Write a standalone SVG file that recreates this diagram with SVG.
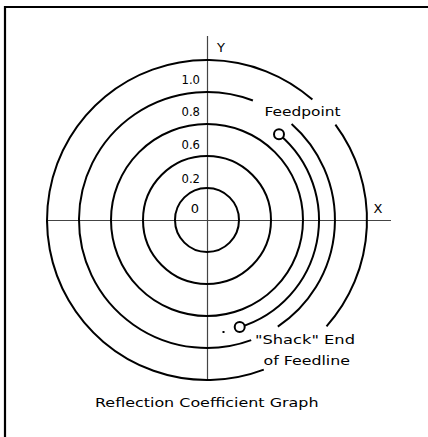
<svg xmlns="http://www.w3.org/2000/svg" width="428" height="437" viewBox="0 0 428 437">
<style>
.ring{fill:none;stroke:#000;stroke-width:2}
.axis{stroke:#444;stroke-width:1.2;fill:none}
.end{fill:#fff;stroke:#000;stroke-width:2}
text{font-family:"DejaVu Sans","Liberation Sans",sans-serif;font-size:13px;fill:#000}
</style>
<rect width="428" height="437" fill="#fff"/>
<path d="M5,440 V7 H430" fill="none" stroke="#000" stroke-width="2.2"/>
<g id="axes">
<line class="axis" x1="47" y1="220.5" x2="391" y2="220.5"/>
<line class="axis" x1="207.5" y1="36" x2="207.5" y2="380"/>
</g>
<g id="rings">
<circle class="ring" cx="207" cy="220" r="32"/>
<circle class="ring" cx="207" cy="220" r="64"/>
<circle class="ring" cx="207" cy="220" r="96"/>
<path class="ring" d="M291.6,124.0 A128,128 0 0 1 277.8,326.6"/>
<path class="ring" d="M251.2,340.1 A128,128 0 1 1 252.9,100.5"/>
<path class="ring" d="M335.4,124.6 A160,160 0 0 1 326.5,326.4"/>
<path class="ring" d="M263.8,369.6 A160,160 0 1 1 312.4,99.6"/>
</g>
<g id="feedline">
<path class="ring" d="M279.0,134.2 A112,112 0 0 1 239.7,327.1"/>
<circle id="feedpoint" class="end" cx="279.0" cy="134.2" r="5"/>
<circle id="shack" class="end" cx="239.7" cy="327.1" r="5"/>
<rect x="222.5" y="331" width="2" height="2" fill="#000"/>
</g>
<g id="labels">
<text x="221" y="52" text-anchor="middle">Y</text>
<text x="378" y="213" text-anchor="middle">X</text>
<text x="200" y="84" text-anchor="end" textLength="18.5" lengthAdjust="spacingAndGlyphs">1.0</text>
<text x="200" y="116" text-anchor="end" textLength="18.5" lengthAdjust="spacingAndGlyphs">0.8</text>
<text x="200" y="148.5" text-anchor="end" textLength="18.5" lengthAdjust="spacingAndGlyphs">0.6</text>
<text x="200" y="182.5" text-anchor="end" textLength="18.5" lengthAdjust="spacingAndGlyphs">0.2</text>
<text x="199" y="212.5" text-anchor="end">0</text>
<text x="264.5" y="116" textLength="76" lengthAdjust="spacingAndGlyphs">Feedpoint</text>
<text x="255" y="344.3" textLength="100" lengthAdjust="spacingAndGlyphs">"Shack" End</text>
<text x="263.5" y="365" textLength="86.5" lengthAdjust="spacingAndGlyphs">of Feedline</text>
<text x="95" y="407.3" textLength="223.5" lengthAdjust="spacingAndGlyphs">Reflection Coefficient Graph</text>
</g>
</svg>
